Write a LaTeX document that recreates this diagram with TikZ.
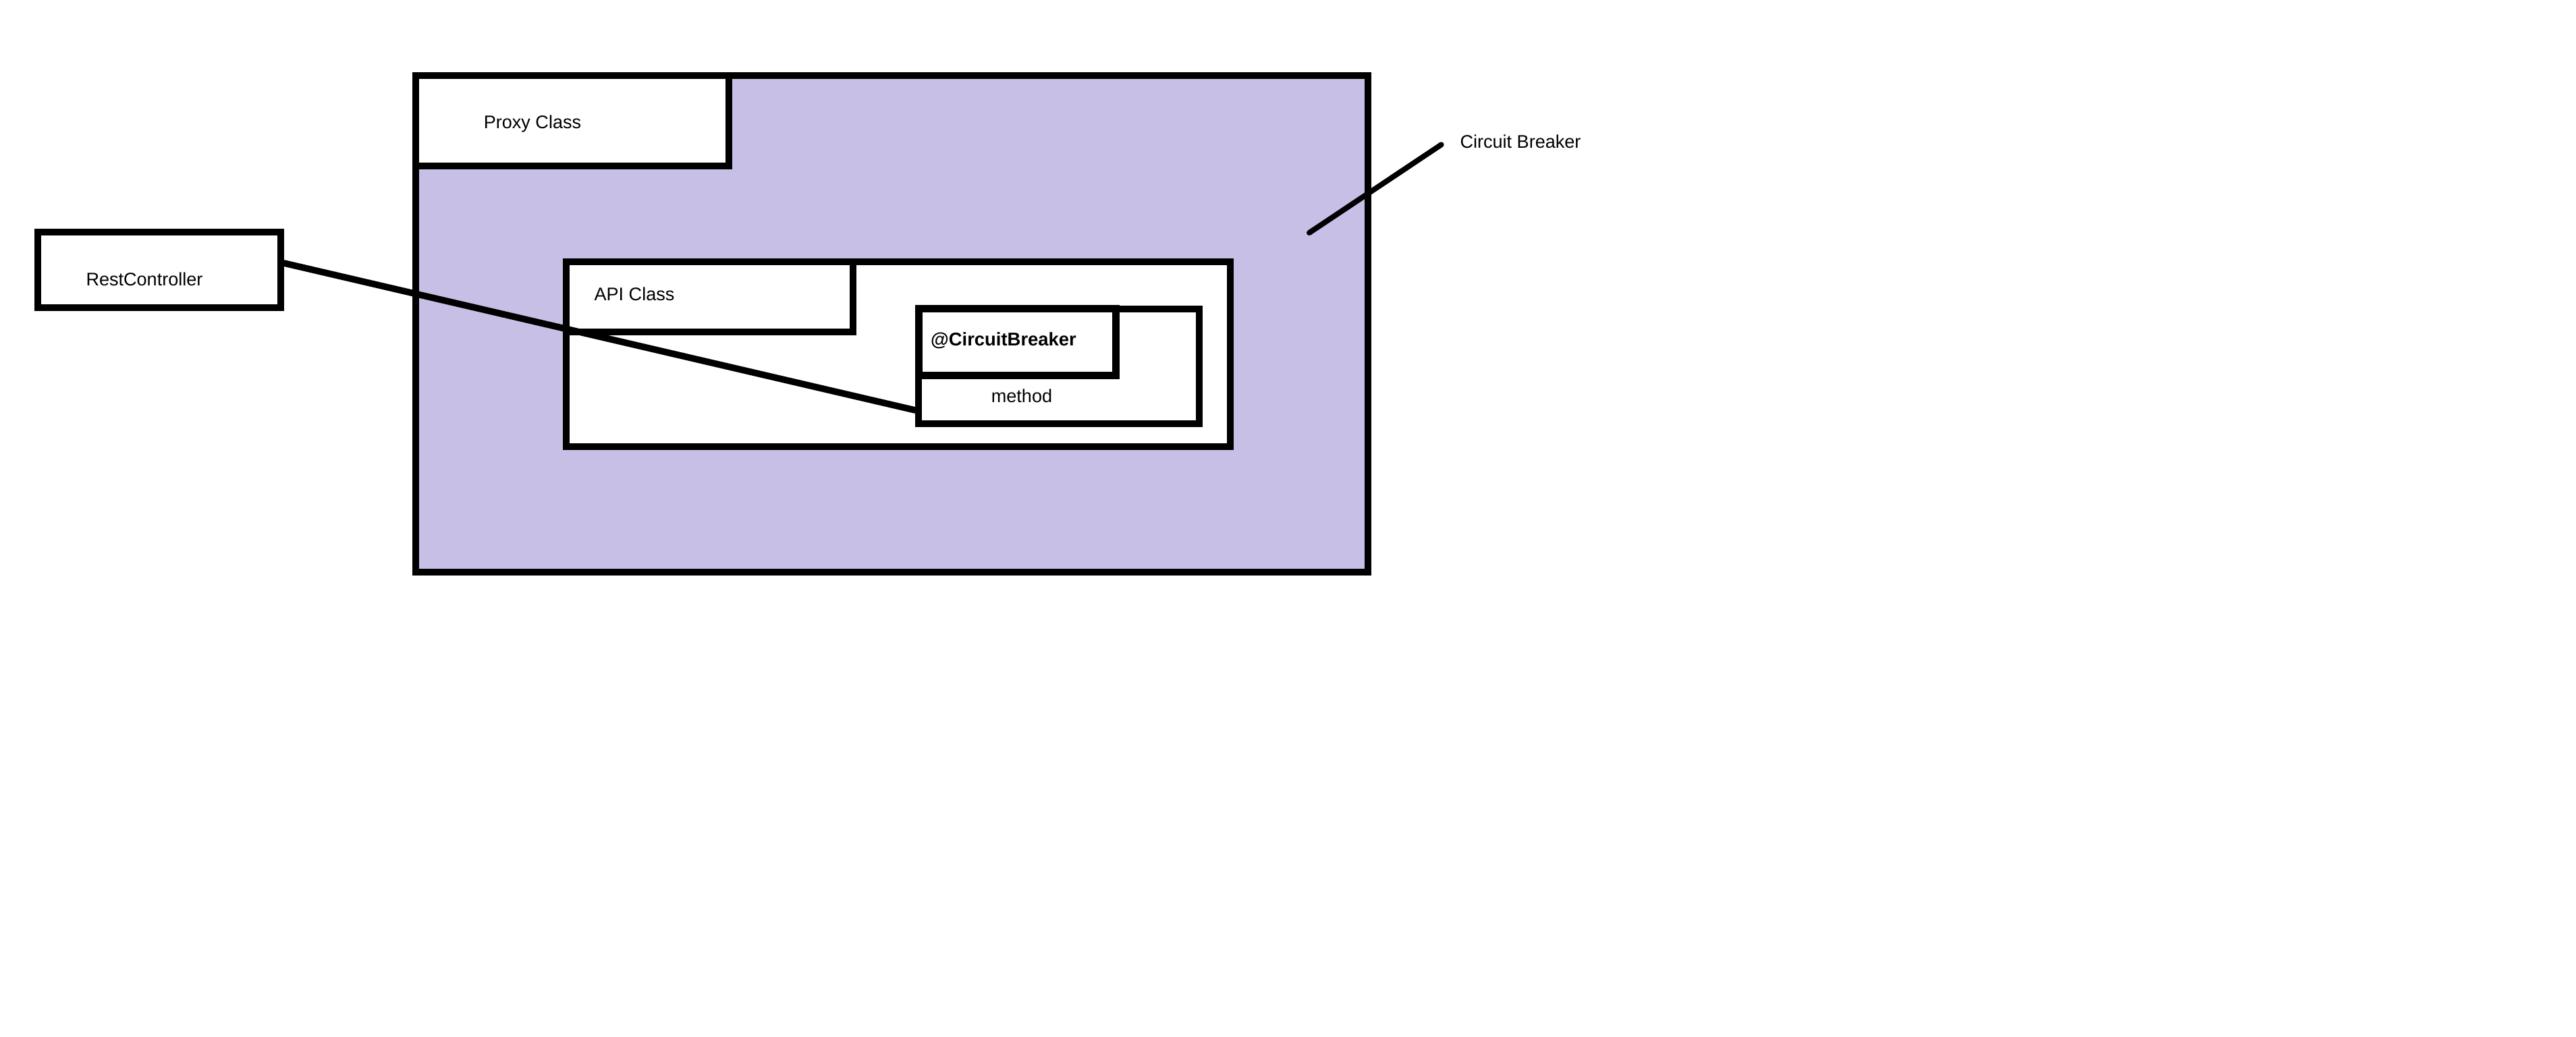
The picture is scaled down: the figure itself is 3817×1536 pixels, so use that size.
\documentclass[tikz,border=0pt]{standalone}
\usepackage{fontspec}
\setmainfont{Liberation Sans}
\usepackage{xcolor}
\usetikzlibrary{positioning,fit}
\definecolor{paintlavender}{RGB}{200,191,231}

\begin{document}
\begin{tikzpicture}[x=0.1mm,y=-0.1mm,line width=0.97mm]
\tikzstyle{every node} = [font=\fontsize{7.7}{9}\selectfont, inner sep=0cm]
\tikzstyle{box} = [draw, rectangle, fill=white]
\tikzstyle{tag} = [anchor=base]
\path[use as bounding box, fill=white] (0,0) rectangle (3817,1536);
% proxy around the api class
\node [box, fill=paintlavender, fit={(616,112) (2027,848)}] (proxy) {};
\node [box, fit={(616,112) (1080,246)}] (proxyname) {};
\node [tag] (proxytext) at (789,190) {Proxy Class};
\node [box, fit={(56,344) (416,456)}] (rest) {};
\node [tag] (resttext) at (214,423) {RestController};
\node [box, fit={(839,388) (1823,662)}] (api) {};
\node [box, fit={(839,388) (1264,492)}] (apiname) {};
\node [tag] (apitext) at (940,445) {API Class};
\node [box, fit={(1361,458) (1777,628)}] (method) {};
\node [box, line width=1.1mm, fit={(1361,457) (1653,556)}] (annotation) {};
\node [tag, font=\fontsize{7.8}{9}\selectfont\bfseries] (annotationtext) at (1487,512) {@CircuitBreaker};
\node [tag] (methodtext) at (1514,596) {method};
\node [tag] (cbtext) at (2253,219) {Circuit Breaker};
% connectors
\draw [line cap=round] ([yshift=1mm]rest.east) -- ([yshift=-6.5mm]method.west);
\coordinate (breakpoint) at (1940,345);
\draw [line cap=round, line width=0.8mm] (breakpoint) -- ([xshift=-2.3mm,yshift=-0.5mm]cbtext.west);
\end{tikzpicture}
\end{document}
